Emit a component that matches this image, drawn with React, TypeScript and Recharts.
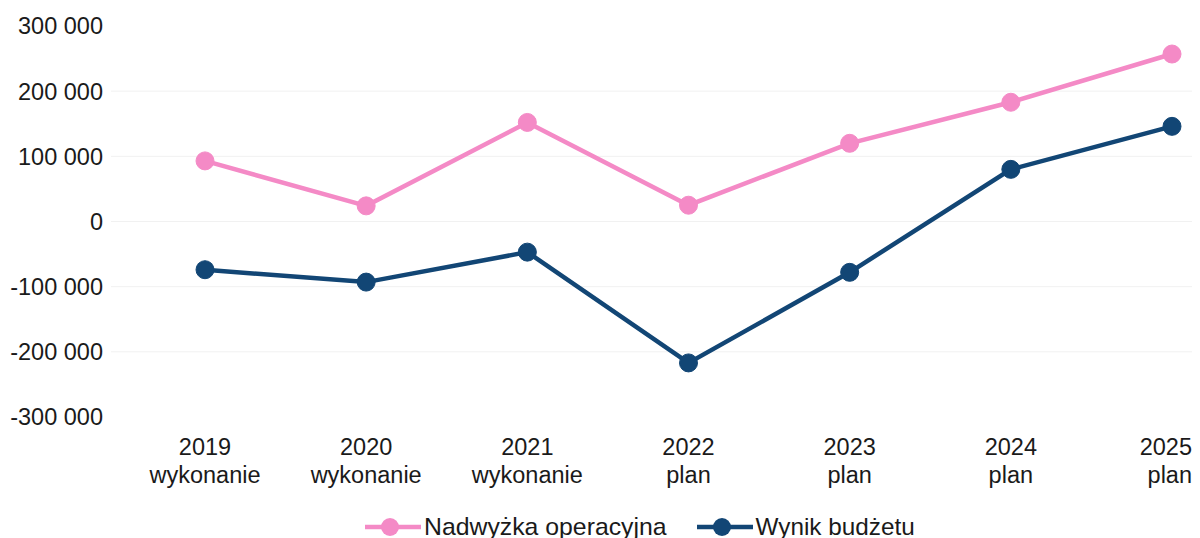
import React from "react";
import { LineChart, Line, XAxis, YAxis, CartesianGrid, Legend } from "recharts";

const years = ["2019", "2020", "2021", "2022", "2023", "2024", "2025"];
const kinds = ["wykonanie", "wykonanie", "wykonanie", "plan", "plan", "plan", "plan"];
const nadwyzka = [93000, 24000, 152000, 25000, 120000, 183000, 257000];
const wynik = [-74000, -93000, -47000, -217000, -78000, 80000, 146000];
const yTicks = [-300000, -200000, -100000, 0, 100000, 200000, 300000];
const gridValues = [-200000, -100000, 0, 100000, 200000];

const PINK = "#F48AC6";
const NAVY = "#124675";
const FONT = "'Liberation Sans', Arial, sans-serif";

const data = years.map((y, i) => ({
  cat: y + "\n" + kinds[i],
  nadwyzka: nadwyzka[i],
  wynik: wynik[i],
}));

const fmt = (v: number) => {
  const s = Math.abs(v).toString().replace(/\B(?=(\d{3})+(?!\d))/g, " ");
  return (v < 0 ? "-" : "") + s;
};

const XTick = (props: any) => {
  const { x, y, payload, index } = props;
  const [a, b] = String(payload.value).split("\n");
  const last = index === years.length - 1;
  const tx = last ? x + 20 : x;
  return (
    <text x={tx} y={y} textAnchor={last ? "end" : "middle"} fill="#1a1a1a" fontSize={23.5} fontFamily={FONT}>
      <tspan x={tx} dy={30}>{a}</tspan>
      <tspan x={tx} dy={28}>{b}</tspan>
    </text>
  );
};

const LegendContent = () => {
  const item = (color: string, label: string, fs: number) => (
    <div style={{ display: "flex", alignItems: "center" }}>
      <svg width={56} height={20}>
        <line x1={0} y1={10} x2={56} y2={10} stroke={color} strokeWidth={4.5} />
        <circle cx={25} cy={10} r={9} fill={color} />
      </svg>
      <span style={{ marginLeft: 3, fontSize: fs, fontFamily: FONT, color: "#1a1a1a" }}>{label}</span>
    </div>
  );
  return (
    <div style={{ display: "flex", alignItems: "center", paddingLeft: 357, gap: 30 }}>
      {item(PINK, "Nadwyżka operacyjna", 24.8)}
      {item(NAVY, "Wynik budżetu", 24.3)}
    </div>
  );
};

export default function App() {
  return (
    <LineChart
      width={1192}
      height={545}
      data={data}
      margin={{ top: 18, right: 0, left: 0, bottom: 56 }}
    >
      <CartesianGrid
        vertical={false}
        stroke="#f1f1f1"
        strokeWidth={1}
        horizontalValues={gridValues}
      />
      <XAxis
        dataKey="cat"
        scale="point"
        padding={{ left: 94, right: 28 }}
        axisLine={false}
        tickLine={false}
        height={80}
        interval={0}
        tick={<XTick />}
      />
      <YAxis
        width={103}
        domain={[-300000, 300000]}
        ticks={yTicks}
        tickFormatter={fmt}
        axisLine={false}
        tickLine={false}
        tick={{ fill: "#1a1a1a", fontSize: 23.5, fontFamily: FONT }}
      />
      <Legend
        verticalAlign="middle"
        align="center"
        layout="horizontal"
        wrapperStyle={{ top: 505, left: 0, width: 1192 }}
        content={<LegendContent />}
      />
      <Line
        dataKey="nadwyzka"
        name="Nadwyżka operacyjna"
        stroke={PINK}
        strokeWidth={4.5}
        dot={{ r: 9, fill: PINK, stroke: PINK, strokeWidth: 1 }}
        isAnimationActive={false}
      />
      <Line
        dataKey="wynik"
        name="Wynik budżetu"
        stroke={NAVY}
        strokeWidth={4.5}
        dot={{ r: 9, fill: NAVY, stroke: NAVY, strokeWidth: 1 }}
        isAnimationActive={false}
      />
    </LineChart>
  );
}
